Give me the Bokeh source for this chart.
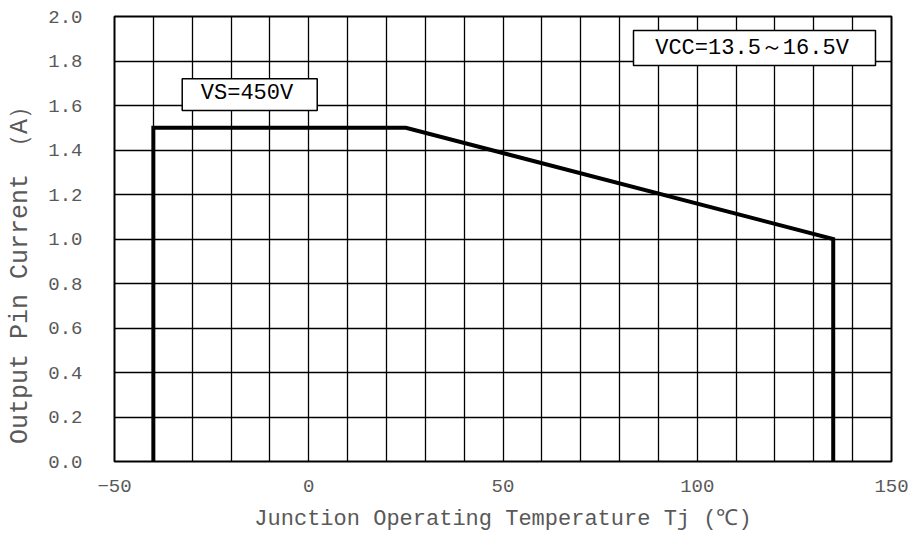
from bokeh.plotting import figure
from bokeh.models import Range1d, FixedTicker, SingleIntervalTicker, Label, NumeralTickFormatter
from bokeh.embed import file_html
from bokeh.resources import INLINE

# Data
temperature = [-40, -40, 25, 135, 135]       # Junction temperature Tj (°C)
pin_current = [0.0, 1.5, 1.5, 1.0, 0.0]      # Output pin current (A)

x_ticks = [-50, 0, 50, 100, 150]
y_ticks = [0.0, 0.2, 0.4, 0.6, 0.8, 1.0, 1.2, 1.4, 1.6, 1.8, 2.0]

vs_note = "VS=450V"
vcc_note = "VCC=13.5～16.5V"
x_title = "Junction Operating Temperature Tj (℃)"
y_title = "Output Pin Current （A）"

FONT = "Liberation Mono"
GRAY = "#595959"
NBSP = "\u00a0"

p = figure(frame_width=777, frame_height=445, output_backend="svg", toolbar_location=None,
           x_range=Range1d(-50, 150), y_range=Range1d(0, 2.0),
           min_border_left=114, min_border_top=16, min_border_right=19, min_border_bottom=79)
p.background_fill_color = "white"
p.border_fill_color = "white"
p.outline_line_color = "black"
p.outline_line_width = 2
p.outline_line_alpha = 1

# Grid
p.xgrid.ticker = SingleIntervalTicker(interval=10)
p.ygrid.ticker = SingleIntervalTicker(interval=0.2)
for g in (p.xgrid, p.ygrid):
    g.grid_line_color = "black"
    g.grid_line_width = 1.3
    g.grid_line_alpha = 1

# Axes
p.xaxis.ticker = FixedTicker(ticks=x_ticks)
p.yaxis.ticker = FixedTicker(ticks=y_ticks)
p.yaxis.formatter = NumeralTickFormatter(format="0.0")
for ax in (p.xaxis, p.yaxis):
    ax.axis_line_color = None
    ax.major_tick_line_color = None
    ax.minor_tick_line_color = None
    ax.major_tick_out = 0
    ax.major_tick_in = 0
    ax.major_label_text_font = FONT
    ax.major_label_text_font_size = "19px"
    ax.major_label_text_color = GRAY
    ax.axis_label_text_font = FONT
    ax.axis_label_text_font_style = "normal"
    ax.axis_label_text_color = GRAY
p.xaxis.major_label_standoff = 18
p.yaxis.major_label_standoff = 32

# Axis titles
p.xaxis.axis_label = x_title
p.xaxis.axis_label_text_font_size = "22px"
p.xaxis.axis_label_standoff = 12
p.yaxis.axis_label = y_title + NBSP * 4
p.yaxis.axis_label_text_font_size = "25px"
p.yaxis.axis_label_standoff = 10

# Curve
p.line(temperature, pin_current, line_color="black", line_width=4, line_join="miter")

# Annotation boxes
p.quad(left=[-32.57], right=[2.18], bottom=[1.578], top=[1.720],
       fill_color="white", line_color="black", line_width=1.5)
p.quad(left=[83.59], right=[145.88], bottom=[1.780], top=[1.937],
       fill_color="white", line_color="black", line_width=1.5)

p.add_layout(Label(x=-15.9, y=1.652, text=vs_note, text_align="center", text_baseline="middle",
                   text_font=FONT, text_font_size="22px", text_color="black"))
p.add_layout(Label(x=114.1, y=1.858, text=vcc_note, text_align="center", text_baseline="middle",
                   text_font=FONT, text_font_size="22px", text_color="black"))

open("out.html", "w").write(file_html(p, INLINE))
